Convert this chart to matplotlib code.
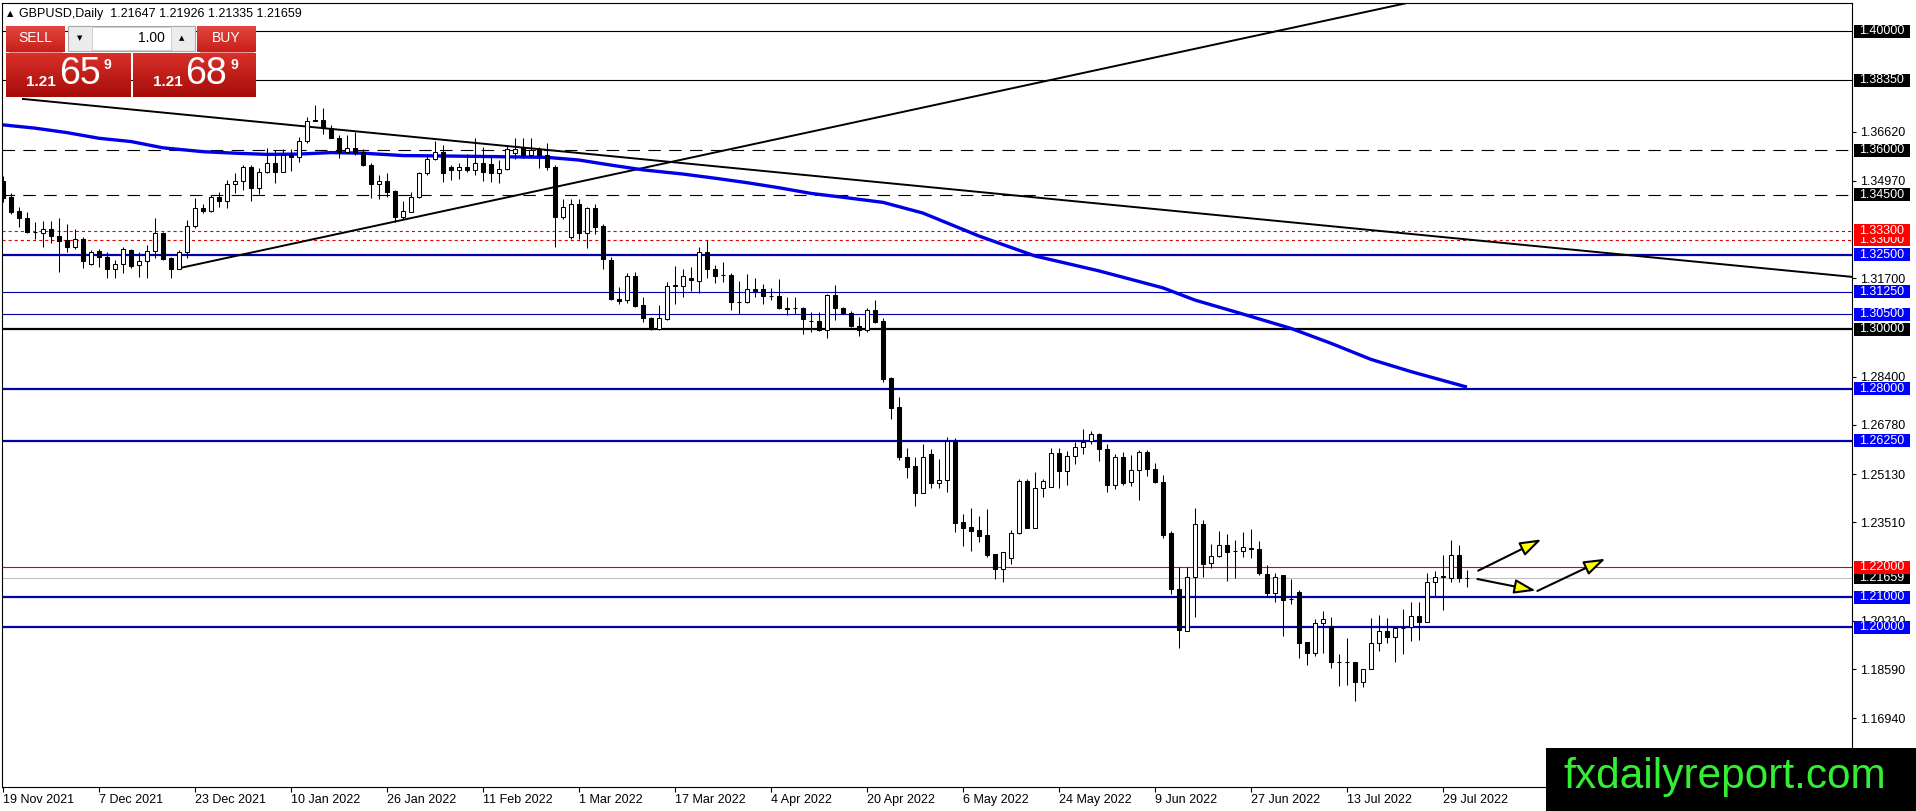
import numpy as np
import pandas as pd
import matplotlib
matplotlib.use('Agg')
import matplotlib.pyplot as plt
import matplotlib.colors as mcolors
from matplotlib.patches import Rectangle

plt.rcParams['font.family'] = ['Liberation Sans', 'DejaVu Sans']
plt.rcParams['lines.scale_dashes'] = False

# ---- daily GBPUSD candles, 19 Nov 2021 .. 3 Aug 2022 ----
opens = [1.3497, 1.3442, 1.3396, 1.3374, 1.3324, 1.3321, 1.3334, 1.3312, 1.3298, 1.3276,
         1.3301, 1.3217, 1.3261, 1.3240, 1.3201, 1.3217, 1.3265, 1.3214, 1.3228, 1.3262,
         1.3321, 1.3239, 1.3203, 1.3259, 1.3347, 1.3405, 1.3396, 1.3442, 1.3431, 1.3485,
         1.3496, 1.3545, 1.3474, 1.3526, 1.3556, 1.3528, 1.3584, 1.3576, 1.3632, 1.3703,
         1.3703, 1.3676, 1.3642, 1.3593, 1.3608, 1.3595, 1.3552, 1.3485, 1.3497, 1.3463,
         1.3377, 1.3394, 1.3444, 1.3522, 1.3572, 1.3595, 1.3545, 1.3534, 1.3545, 1.3534,
         1.3556, 1.3553, 1.3525, 1.3536, 1.3590, 1.3612, 1.3585, 1.3603, 1.3584, 1.3545,
         1.3377, 1.3308, 1.3419, 1.3321, 1.3405, 1.3346, 1.3231, 1.3099, 1.3097, 1.3178,
         1.3080, 1.3036, 1.3000, 1.3033, 1.3144, 1.3144, 1.3170, 1.3162, 1.3257, 1.3201,
         1.3181, 1.3181, 1.3089, 1.3089, 1.3133, 1.3133, 1.3111, 1.3111, 1.3072, 1.3069,
         1.3069, 1.3027, 1.3027, 1.2997, 1.3114, 1.3069, 1.3055, 1.3011, 1.2997, 1.3064,
         1.3027, 1.2834, 1.2737, 1.2569, 1.2541, 1.2450, 1.2580, 1.2484, 1.2492, 1.2625,
         1.2352, 1.2334, 1.2325, 1.2308, 1.2245, 1.2193, 1.2233, 1.2314, 1.2490, 1.2333,
         1.2465, 1.2471, 1.2583, 1.2524, 1.2574, 1.2603, 1.2625, 1.2646, 1.2596, 1.2478,
         1.2569, 1.2487, 1.2527, 1.2586, 1.2530, 1.2487, 1.2316, 1.2126, 1.1987, 1.2169,
         1.2344, 1.2215, 1.2239, 1.2274, 1.2256, 1.2254, 1.2264, 1.2261, 1.2177, 1.2113,
         1.2173, 1.2094, 1.2118, 1.1948, 1.1914, 1.2014, 1.2004, 1.1881, 1.1881, 1.1881,
         1.1814, 1.1860, 1.1945, 1.1988, 1.1965, 1.1995, 1.1999, 1.2036, 1.2018, 1.2150,
         1.2169, 1.2165, 1.2243, 1.21647]
highs = [1.3514, 1.3455, 1.3410, 1.3391, 1.3360, 1.3362, 1.3362, 1.3371, 1.3351, 1.3334,
         1.3310, 1.3265, 1.3268, 1.3259, 1.3231, 1.3276, 1.3267, 1.3259, 1.3282, 1.3373,
         1.3326, 1.3242, 1.3265, 1.3366, 1.3441, 1.3418, 1.3450, 1.3461, 1.3500, 1.3522,
         1.3550, 1.3550, 1.3539, 1.3606, 1.3600, 1.3604, 1.3604, 1.3645, 1.3713, 1.3752,
         1.3743, 1.3685, 1.3651, 1.3651, 1.3660, 1.3604, 1.3556, 1.3516, 1.3525, 1.3466,
         1.3429, 1.3461, 1.3528, 1.3586, 1.3631, 1.3617, 1.3550, 1.3556, 1.3586, 1.3642,
         1.3612, 1.3578, 1.3567, 1.3617, 1.3640, 1.3640, 1.3640, 1.3612, 1.3623, 1.3551,
         1.3435, 1.3435, 1.3435, 1.3411, 1.3418, 1.3351, 1.3243, 1.3141, 1.3189, 1.3192,
         1.3108, 1.3040, 1.3080, 1.3159, 1.3211, 1.3200, 1.3209, 1.3276, 1.3299, 1.3215,
         1.3224, 1.3187, 1.3161, 1.3184, 1.3172, 1.3152, 1.3136, 1.3168, 1.3108, 1.3108,
         1.3075, 1.3058, 1.3056, 1.3116, 1.3147, 1.3075, 1.3060, 1.3041, 1.3069, 1.3097,
         1.3036, 1.2840, 1.2771, 1.2599, 1.2569, 1.2614, 1.2597, 1.2563, 1.2638, 1.2633,
         1.2379, 1.2401, 1.2372, 1.2395, 1.2245, 1.2252, 1.2325, 1.2496, 1.2496, 1.2521,
         1.2495, 1.2599, 1.2599, 1.2592, 1.2622, 1.2663, 1.2657, 1.2652, 1.2613, 1.2580,
         1.2586, 1.2577, 1.2594, 1.2594, 1.2552, 1.2510, 1.2322, 1.2202, 1.2200, 1.2401,
         1.2359, 1.2277, 1.2322, 1.2312, 1.2292, 1.2320, 1.2328, 1.2289, 1.2208, 1.2182,
         1.2175, 1.2160, 1.2125, 1.1950, 1.2026, 1.2053, 1.2034, 1.1911, 1.1962, 1.1883,
         1.1860, 1.2031, 1.2040, 1.2031, 1.2001, 1.2059, 1.2083, 1.2085, 1.2182, 1.2189,
         1.2241, 1.2292, 1.2275, 1.21926]
lows = [1.3425, 1.3385, 1.3343, 1.3321, 1.3302, 1.3276, 1.3287, 1.3192, 1.3259, 1.3270,
        1.3206, 1.3215, 1.3209, 1.3170, 1.3170, 1.3187, 1.3206, 1.3175, 1.3172, 1.3239,
        1.3231, 1.3172, 1.3201, 1.3237, 1.3340, 1.3388, 1.3394, 1.3410, 1.3405, 1.3455,
        1.3466, 1.3429, 1.3453, 1.3522, 1.3491, 1.3528, 1.3530, 1.3561, 1.3623, 1.3698,
        1.3653, 1.3640, 1.3573, 1.3589, 1.3584, 1.3548, 1.3441, 1.3436, 1.3444, 1.3360,
        1.3369, 1.3391, 1.3438, 1.3517, 1.3567, 1.3494, 1.3500, 1.3503, 1.3528, 1.3517,
        1.3496, 1.3494, 1.3489, 1.3534, 1.3572, 1.3575, 1.3575, 1.3540, 1.3534, 1.3274,
        1.3368, 1.3301, 1.3301, 1.3271, 1.3318, 1.3203, 1.3097, 1.3084, 1.3086, 1.3075,
        1.3024, 1.2996, 1.2996, 1.3030, 1.3084, 1.3108, 1.3128, 1.3120, 1.3170, 1.3155,
        1.3159, 1.3064, 1.3052, 1.3086, 1.3108, 1.3084, 1.3097, 1.3066, 1.3047, 1.3050,
        1.2982, 1.2989, 1.2993, 1.2971, 1.3030, 1.3052, 1.3008, 1.2977, 1.2991, 1.3021,
        1.2821, 1.2697, 1.2560, 1.2499, 1.2407, 1.2448, 1.2468, 1.2468, 1.2454, 1.2320,
        1.2271, 1.2256, 1.2286, 1.2236, 1.2160, 1.2152, 1.2211, 1.2312, 1.2331, 1.2331,
        1.2435, 1.2471, 1.2467, 1.2476, 1.2547, 1.2580, 1.2614, 1.2558, 1.2454, 1.2463,
        1.2476, 1.2473, 1.2426, 1.2507, 1.2482, 1.2298, 1.2110, 1.1928, 1.1985, 1.2034,
        1.2169, 1.2197, 1.2236, 1.2155, 1.2165, 1.2236, 1.2233, 1.2174, 1.2102, 1.2085,
        1.1971, 1.2077, 1.1895, 1.1872, 1.1902, 1.1914, 1.1861, 1.1803, 1.1805, 1.1752,
        1.1797, 1.1858, 1.1920, 1.1947, 1.1883, 1.1911, 1.1954, 1.1958, 1.2016, 1.2099,
        1.2057, 1.2152, 1.2152, 1.21335]
closes = [1.3438, 1.3394, 1.3373, 1.3324, 1.3326, 1.3334, 1.3312, 1.3296, 1.3276, 1.3301,
          1.3229, 1.3259, 1.3240, 1.3200, 1.3217, 1.3267, 1.3212, 1.3228, 1.3262, 1.3321,
          1.3234, 1.3203, 1.3259, 1.3347, 1.3405, 1.3396, 1.3442, 1.3431, 1.3485, 1.3496,
          1.3545, 1.3474, 1.3526, 1.3556, 1.3528, 1.3584, 1.3576, 1.3632, 1.3699, 1.3699,
          1.3676, 1.3642, 1.3593, 1.3608, 1.3589, 1.3550, 1.3485, 1.3497, 1.3461, 1.3377,
          1.3396, 1.3444, 1.3522, 1.3572, 1.3595, 1.3525, 1.3534, 1.3545, 1.3534, 1.3556,
          1.3528, 1.3525, 1.3536, 1.3603, 1.3603, 1.3585, 1.3600, 1.3584, 1.3545, 1.3377,
          1.3408, 1.3419, 1.3321, 1.3405, 1.3343, 1.3234, 1.3099, 1.3095, 1.3178, 1.3078,
          1.3036, 1.3000, 1.3036, 1.3144, 1.3146, 1.3178, 1.3164, 1.3257, 1.3203, 1.3179,
          1.3181, 1.3089, 1.3090, 1.3133, 1.3127, 1.3111, 1.3112, 1.3072, 1.3066, 1.3069,
          1.3033, 1.3027, 1.2997, 1.3114, 1.3069, 1.3055, 1.3011, 1.2997, 1.3064, 1.3024,
          1.2832, 1.2736, 1.2569, 1.2538, 1.2450, 1.2569, 1.2484, 1.2492, 1.2625, 1.2350,
          1.2333, 1.2323, 1.2306, 1.2241, 1.2193, 1.2252, 1.2314, 1.2490, 1.2333, 1.2465,
          1.2490, 1.2583, 1.2524, 1.2574, 1.2603, 1.2622, 1.2646, 1.2596, 1.2478, 1.2569,
          1.2482, 1.2527, 1.2586, 1.2529, 1.2487, 1.2309, 1.2126, 1.1990, 1.2169, 1.2344,
          1.2213, 1.2239, 1.2274, 1.2253, 1.2256, 1.2267, 1.2261, 1.2180, 1.2113, 1.2169,
          1.2090, 1.2094, 1.1947, 1.1914, 1.2014, 1.2026, 1.1883, 1.1881, 1.1881, 1.1814,
          1.1858, 1.1945, 1.1988, 1.1965, 1.1995, 1.1996, 1.2036, 1.2018, 1.2150, 1.2169,
          1.2170, 1.2243, 1.2163, 1.21659]

# moving average (sampled along the blue curve)
ma_bar = [0, 4, 8, 12, 16, 20, 25, 29, 33, 37, 41, 45, 50, 54, 60, 68, 72, 76, 80, 85,
          89, 93, 97, 101, 105, 110, 115, 122, 129, 137, 145, 149, 155, 161, 166, 171, 176, 183]
ma_val = [1.3685, 1.3674, 1.3659, 1.3640, 1.3629, 1.3608, 1.3595, 1.3590, 1.3586, 1.3587,
          1.3592, 1.3590, 1.3582, 1.3581, 1.3579, 1.3576, 1.3567, 1.3550, 1.3534, 1.3520,
          1.3506, 1.3491, 1.3474, 1.3455, 1.3442, 1.3425, 1.3389, 1.3312, 1.3245, 1.3195,
          1.3138, 1.3097, 1.3050, 1.3002, 1.2952, 1.2898, 1.2857, 1.2805]

# trend lines (bar index, price)
down_x = [2.5, 231.1]
down_y = [1.3772, 1.3175]
up_x = [22, 180]
up_y = [1.3204, 1.4120]

# arrows (start -> tip)
arrows = [((184.4, 1.2189), (192.3, 1.2294)),
          ((184.3, 1.2161), (191.6, 1.2122)),
          ((191.8, 1.2121), (200.3, 1.2229))]

# horizontal levels
lvl_price = [1.40, 1.3835, 1.36, 1.345, 1.333, 1.330, 1.325, 1.3125, 1.305, 1.30,
             1.28, 1.2625, 1.22, 1.21, 1.20]
lvl_style = ['thin', 'thin', 'dash', 'dash', 'dot', 'dot', 'bthick', 'bthin', 'bthin', 'kthick',
             'bthick', 'bthick', 'red', 'bthick', 'bthick']
bid = 1.21659

# right-side price boxes, drawn in this order (later on top)
box_price = [1.40, 1.3835, 1.36, 1.345, 1.330, 1.333, 1.325, 1.3125, 1.305, 1.30,
             1.28, 1.2625, 1.21659, 1.22, 1.21, 1.20]
box_color = ['black', 'black', 'black', 'black', 'red', 'red', 'blue', 'blue', 'blue', 'black',
             'blue', 'blue', 'black', 'red', 'blue', 'blue']
scale_ticks = [1.3662, 1.3497, 1.3170, 1.2840, 1.2678, 1.2513, 1.2351, 1.2021, 1.1859, 1.1694]

dates = pd.bdate_range('2021-11-19', periods=len(opens))

W, H = 1916, 811
fig = plt.figure(figsize=(W / 100, H / 100), dpi=100, facecolor='white')
ax = fig.add_axes([2 / W, 1 - 787 / H, 1850 / W, 784 / H])
ax.set_xlim(-0.125, 231.125)
ax.set_ylim(1.146309, 1.409396)

o = np.array(opens); h = np.array(highs); l = np.array(lows); c = np.array(closes)
idx = np.arange(len(o))
up = c >= o

NAVY = '#0000b0'
for p, st in zip(lvl_price, lvl_style):
    if st == 'thin':
        ax.axhline(p, color='black', lw=0.8, zorder=1)
    elif st == 'dash':
        ax.axhline(p, color='black', lw=0.8, ls=(0, (9, 6)), zorder=1)
    elif st == 'dot':
        ax.axhline(p, color='#e00000', lw=0.8, ls=(0, (2.2, 2.2)), zorder=1)
    elif st == 'bthick':
        ax.axhline(p, color=NAVY, lw=1.6, zorder=1)
    elif st == 'bthin':
        ax.axhline(p, color=NAVY, lw=0.8, zorder=1)
    elif st == 'kthick':
        ax.axhline(p, color='black', lw=1.6, zorder=1)
    elif st == 'red':
        ax.axhline(p, color='#e00000', lw=0.8, zorder=1)
ax.axhline(bid, color='#c0c0c0', lw=0.8, zorder=1)

ax.plot(down_x, down_y, color='black', lw=1.4, zorder=2)
ax.plot(up_x, up_y, color='black', lw=1.4, zorder=2)
ax.plot(ma_bar, ma_val, color='#0000e6', lw=2.4, zorder=2.5, solid_capstyle='butt')

# candles
ax.vlines(idx, l, h, color='black', lw=0.75, zorder=3)
bot = np.minimum(o, c)
hgt = np.abs(c - o)
ax.bar(idx[up], hgt[up], bottom=bot[up], width=0.62, facecolor='white',
       edgecolor='black', lw=0.75, zorder=4)
ax.bar(idx[~up], hgt[~up], bottom=bot[~up], width=0.62, facecolor='black',
       edgecolor='black', lw=0.75, zorder=4)

for (x0, y0), (x1, y1) in arrows:
    ax.annotate('', xy=(x1, y1), xytext=(x0, y0),
                arrowprops=dict(arrowstyle='-|>,head_length=0.65,head_width=0.22',
                                mutation_scale=20, lw=1.5, edgecolor='black',
                                facecolor='#ffff00', shrinkA=0, shrinkB=0),
                zorder=5)

for s in ax.spines.values():
    s.set_color('black')
    s.set_linewidth(0.8)

# x axis dates
ax.set_xticks(idx[::12])
ax.set_xticklabels([f"{d.day} {d.strftime('%b %Y')}" for d in dates[::12]])
ax.tick_params(axis='x', direction='out', length=3.5, width=0.8, pad=1.5, labelsize=9)
for t in ax.get_xticklabels():
    t.set_horizontalalignment('left')

# y axis on the right
ax.yaxis.tick_right()
ax.set_yticks(scale_ticks)
ax.set_yticklabels([f"{v:.5f}" for v in scale_ticks])
ax.tick_params(axis='y', direction='out', length=3, width=0.8, pad=2.5, labelsize=9)

tr = ax.get_yaxis_transform()
bx0 = (1854 - 2) / 1850
bw = 56 / 1850
bh = 13 / 2980
tx = (1859 - 2) / 1850
cmap = {'black': '#000000', 'red': '#ff0000', 'blue': '#0000ff'}
for k, (p, col) in enumerate(zip(box_price, box_color)):
    ax.add_patch(Rectangle((bx0, p - bh / 2), bw, bh, transform=tr, clip_on=False,
                           facecolor=cmap[col], edgecolor='none', zorder=6 + 2 * k))
    ax.text(tx, p, f"{p:.5f}", transform=tr, color='white', fontsize=9, va='center',
            ha='left', clip_on=False, zorder=7 + 2 * k)

# ---- overlay in pixel coordinates: header, trade panel, watermark ----
ov = fig.add_axes([0, 0, 1, 1])
ov.set_zorder(50)
ov.patch.set_visible(False)
ov.set_autoscale_on(False)
ov.set_xlim(0, W)
ov.set_ylim(H, 0)
ov.axis('off')


def grad_box(x0, y0, x1, y1, top, bottom):
    t = np.linspace(0, 1, 40)[:, None, None]
    a = np.array(mcolors.to_rgb(top))
    b = np.array(mcolors.to_rgb(bottom))
    ov.imshow(a * (1 - t) + b * t, extent=(x0, x1, y1, y0), aspect='auto',
              interpolation='bilinear', zorder=1)


ov.text(7, 13.5, '\u25B2', fontsize=6, family='DejaVu Sans', va='center', ha='left')
ov.text(19, 13.5, 'GBPUSD,Daily  1.21647 1.21926 1.21335 1.21659', fontsize=9,
        va='center', ha='left')

grad_box(6, 26, 65, 52, '#e0463f', '#c91f19')
grad_box(197, 26, 256, 52, '#e0463f', '#c91f19')
grad_box(6, 53, 131, 97, '#d8302a', '#a60c0a')
grad_box(133, 53, 256, 97, '#d8302a', '#a60c0a')
ov.add_patch(Rectangle((68, 26), 127, 25, facecolor='#ececec', edgecolor='#a8a8a8', lw=0.8, zorder=2))
ov.add_patch(Rectangle((92, 27), 79, 23, facecolor='white', edgecolor='#c8c8c8', lw=0.6, zorder=3))
ov.plot([9, 62], [51.5, 51.5], color='#f08080', lw=0.6, zorder=3)
ov.plot([200, 253], [51.5, 51.5], color='#f08080', lw=0.6, zorder=3)

ov.text(35, 38.5, 'SELL', color='white', fontsize=10, ha='center', va='center', zorder=4)
ov.text(226, 38.5, 'BUY', color='white', fontsize=10, ha='center', va='center', zorder=4)
ov.text(165, 38, '1.00', color='black', fontsize=10, ha='right', va='center', zorder=4)
ov.text(80, 38, '\u25BC', color='black', fontsize=5, family='DejaVu Sans', ha='center', va='center', zorder=4)
ov.text(182, 38, '\u25B2', color='black', fontsize=5, family='DejaVu Sans', ha='center', va='center', zorder=4)

for x_small, x_big, x_sup, big in [(26, 59, 107, '65'), (153, 185, 234, '68')]:
    ov.text(x_small, 82, '1.21', color='white', fontsize=11, fontweight='bold',
            ha='left', va='center', zorder=4)
    ov.text(x_big, 74, big, color='white', fontsize=27, ha='left', va='center', zorder=4)
    ov.text(x_sup, 65, '9', color='white', fontsize=10, fontweight='bold',
            ha='center', va='center', zorder=4)

ov.add_patch(Rectangle((1546, 748), W - 1546, H - 748, facecolor='black', edgecolor='none', zorder=2))
ov.text(1563, 788, 'fxdailyreport.com', color='#33ee33', fontsize=30.5,
        ha='left', va='baseline', zorder=3)

fig.savefig('out.png', dpi=100, facecolor='white')
